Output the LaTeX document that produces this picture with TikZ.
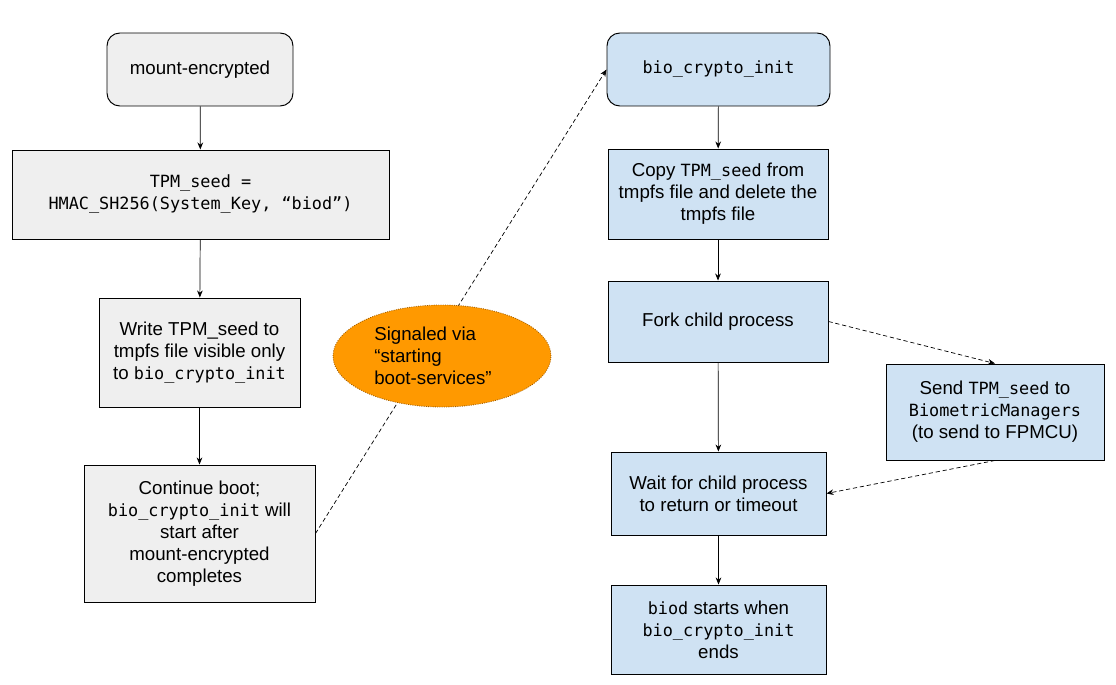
\documentclass[tikz,border=0pt]{standalone}
\usepackage{fontspec}
\setmainfont{Liberation Sans}
\setmonofont{DejaVu Sans Mono}[Scale=0.9]
\usetikzlibrary{arrows.meta,shapes.geometric}
\definecolor{boxgray}{HTML}{EFEFEF}
\definecolor{boxblue}{HTML}{CFE2F3}
\definecolor{signalorange}{HTML}{FF9900}
\definecolor{signaledge}{HTML}{9C5A00}
\newcommand{\code}[1]{\texttt{#1}}
\tikzset{
  >={Stealth[length=5pt,width=4pt]},
  flowbox/.style={draw=black, line width=0.7pt, align=center,
    inner sep=0pt, font=\fontsize{13.3}{15.6}\selectfont},
  graybox/.style={flowbox, fill=boxgray},
  bluebox/.style={flowbox, fill=boxblue},
  startbox/.style={rounded corners=0.32cm},
  signal/.style={ellipse, draw=signaledge, densely dotted, line width=0.6pt,
    fill=signalorange, align=left, inner sep=0pt,
    font=\fontsize{13.3}{15.6}\selectfont},
  flow/.style={->, line width=0.5pt},
  dashflow/.style={->, line width=0.5pt, dash pattern=on 3pt off 2pt}}

\begin{document}
\begin{tikzpicture}
              \useasboundingbox (0,0) rectangle (27.9,-17.125);
              % left column
              \node[graybox, startbox, minimum width=4.65cm, minimum height=1.825cm] (mount) at (5.0,-1.7375) {mount-encrypted};
              \node[graybox, minimum width=9.425cm, minimum height=2.225cm] (seed) at (5.0125,-4.8625)
                {\code{TPM\_seed =}\\\code{HMAC\_SH256(System\_Key, “biod”)}};
              \node[graybox, minimum width=5.025cm, minimum height=2.725cm] (write) at (4.9875,-8.8125)
                {Write TPM\_seed to\\tmpfs file visible only\\to \code{bio\_crypto\_init}};
              \node[graybox, minimum width=5.775cm, minimum height=3.425cm] (cont) at (4.9875,-13.3375)
                {Continue boot;\\\code{bio\_crypto\_init} will\\start after\\mount-encrypted\\completes};
              % right column
              \node[bluebox, startbox, minimum width=5.575cm, minimum height=1.825cm] (bci) at (17.9625,-1.7375) {\code{bio\_crypto\_init}};
              \node[bluebox, minimum width=5.5cm, minimum height=2.25cm] (copy) at (17.95,-4.85)
                {Copy \code{TPM\_seed} from\\tmpfs file and delete the\\tmpfs file};
              \node[bluebox, minimum width=5.5cm, minimum height=2.025cm] (fork) at (17.95,-8.0375) {Fork child process};
              \node[bluebox, minimum width=5.375cm, minimum height=2.075cm] (wait) at (17.9625,-12.3375)
                {Wait for child process\\to return or timeout};
              \node[bluebox, minimum width=5.375cm, minimum height=2.225cm] (biod) at (17.9625,-15.7375)
                {\code{biod} starts when\\\code{bio\_crypto\_init}\\ends};
              \node[bluebox, minimum width=5.45cm, minimum height=2.4cm] (send) at (24.875,-10.3)
                {Send \code{TPM\_seed} to\\\code{BiometricManagers}\\(to send to FPMCU)};
              % connectors
              \draw[flow] (mount) -- (seed);
              \draw[flow] (seed) -- (write);
              \draw[flow] (write) -- (cont);
              \draw[flow] (bci) -- (copy);
              \draw[flow] (copy) -- (fork);
              \draw[flow] (fork) -- (wait);
              \draw[flow] (wait) -- (biod);
              \draw[dashflow] (cont.east) -- (bci.west);
              \draw[dashflow] (fork.east) -- (send.north);
              \draw[dashflow] (send.south) -- (wait.east);
              \node[signal, minimum width=5.45cm, minimum height=2.55cm] (signal) at (11.05,-8.9)
                {Signaled via\\“starting\\boot-services”\hspace*{0.45cm}};
          \end{tikzpicture}
\end{document}
